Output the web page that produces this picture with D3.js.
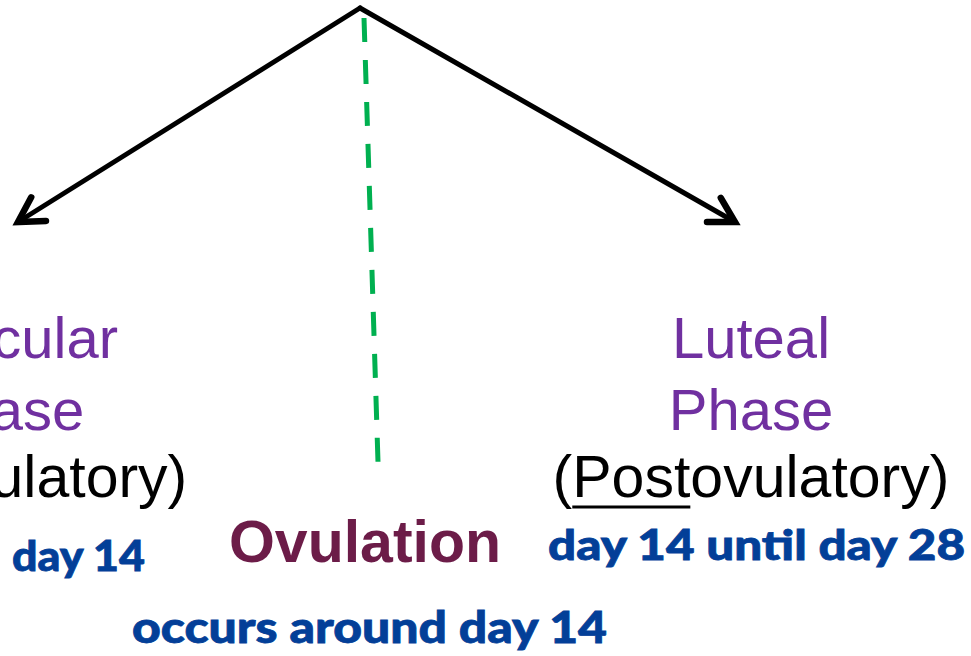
<!DOCTYPE html>
<html><head><meta charset="utf-8">
<script src="https://cdn.jsdelivr.net/npm/d3@7"></script>
<style>html,body{margin:0;padding:0;background:#fff;overflow:hidden}</style>
</head><body>
<script>
// ---- content ----
const phaseTitles = [["Follicular", "Phase"], ["Luteal", "Phase"]];
const phasePrefix = ["Pre", "Post"];
const phaseSuffix = ["ovulatory", "ovulatory"];
const phaseDays = ["day 14", "day 14 until day 28"];
const ovulationLabel = "Ovulation";
const ovulationDay = "occurs around day 14";

const W = 971, H = 656;
const svg = d3.select("body").append("svg").attr("width", W).attr("height", H);

const purple = "#7030a0", maroon = "#6c1c48", blue = "#033f98", green = "#00b050";
const arial = "'Liberation Sans', Arial, sans-serif";
const roundBold = "Lato, 'Open Sans', sans-serif";

// layout scale for the three columns (left phase, ovulation, right phase)
const col = d3.scaleOrdinal().domain(["left", "mid", "right"]).range([2, 365, 751]);

// ---- arrows ----
const apex = [360, 8];
const tips = [[18, 222], [735, 222]];
const line = d3.line();
tips.forEach(t => {
  svg.append("path").attr("d", line([apex, t]))
    .attr("stroke", "#000").attr("stroke-width", 5).attr("fill", "none").attr("stroke-linecap", "round");
  const ang = Math.atan2(apex[1] - t[1], apex[0] - t[0]);
  const L = 28, a = 0.52;
  const w1 = [t[0] + L * Math.cos(ang + a), t[1] + L * Math.sin(ang + a)];
  const w2 = [t[0] + L * Math.cos(ang - a), t[1] + L * Math.sin(ang - a)];
  svg.append("path").attr("d", line([w1, t, w2]))
    .attr("stroke", "#000").attr("stroke-width", 6.5).attr("fill", "none")
    .attr("stroke-linecap", "round").attr("stroke-linejoin", "miter");
});

// ---- green dashed ovulation line ----
svg.append("path").attr("d", line([[364, 18], [378, 462]]))
  .attr("stroke", green).attr("stroke-width", 5).attr("fill", "none")
  .attr("stroke-dasharray", "24 18");

// ---- phase titles ----
const sides = ["left", "right"];
const titleBase = [358, 430];
phaseTitles.forEach((lines, i) => {
  const cx = col(sides[i]);
  lines.forEach((t, j) => {
    svg.append("text").attr("x", cx).attr("y", titleBase[j])
      .attr("text-anchor", "middle").attr("font-family", arial).attr("font-size", 58)
      .attr("fill", purple).text(t);
  });
  const y = 497;
  const txt = svg.append("text").attr("x", cx).attr("y", y)
    .attr("text-anchor", "middle").attr("font-family", arial).attr("font-size", 59)
    .attr("fill", "#000");
  txt.append("tspan").text("(");
  txt.append("tspan").text(phasePrefix[i]);
  txt.append("tspan").text(phaseSuffix[i] + ")");
  const node = txt.node();
  const start = node.getStartPositionOfChar(1).x;
  const end = node.getEndPositionOfChar(phasePrefix[i].length).x;
  svg.append("line").attr("x1", start).attr("x2", end).attr("y1", y + 10).attr("y2", y + 10)
    .attr("stroke", "#000").attr("stroke-width", 3);
});

// ---- blue day labels ----
function fitText(str, x0, x1, y, size, color) {
  svg.append("text").attr("x", x0).attr("y", y)
    .attr("font-family", roundBold).attr("font-weight", 900).attr("font-size", size)
    .attr("fill", color).attr("stroke", color).attr("stroke-width", 0.8)
    .attr("textLength", x1 - x0).attr("lengthAdjust", "spacingAndGlyphs")
    .text(str);
}
fitText(phaseDays[0], 12, 145, 571, 42, blue);
fitText(phaseDays[1], 548, 965, 560, 42, blue);

// ---- ovulation ----
svg.append("text").attr("x", col("mid")).attr("y", 562)
  .attr("text-anchor", "middle").attr("font-family", arial).attr("font-weight", "bold")
  .attr("font-size", 59).attr("fill", maroon).text(ovulationLabel);
fitText(ovulationDay, 132, 607, 643, 44, blue);
</script>
</body></html>
